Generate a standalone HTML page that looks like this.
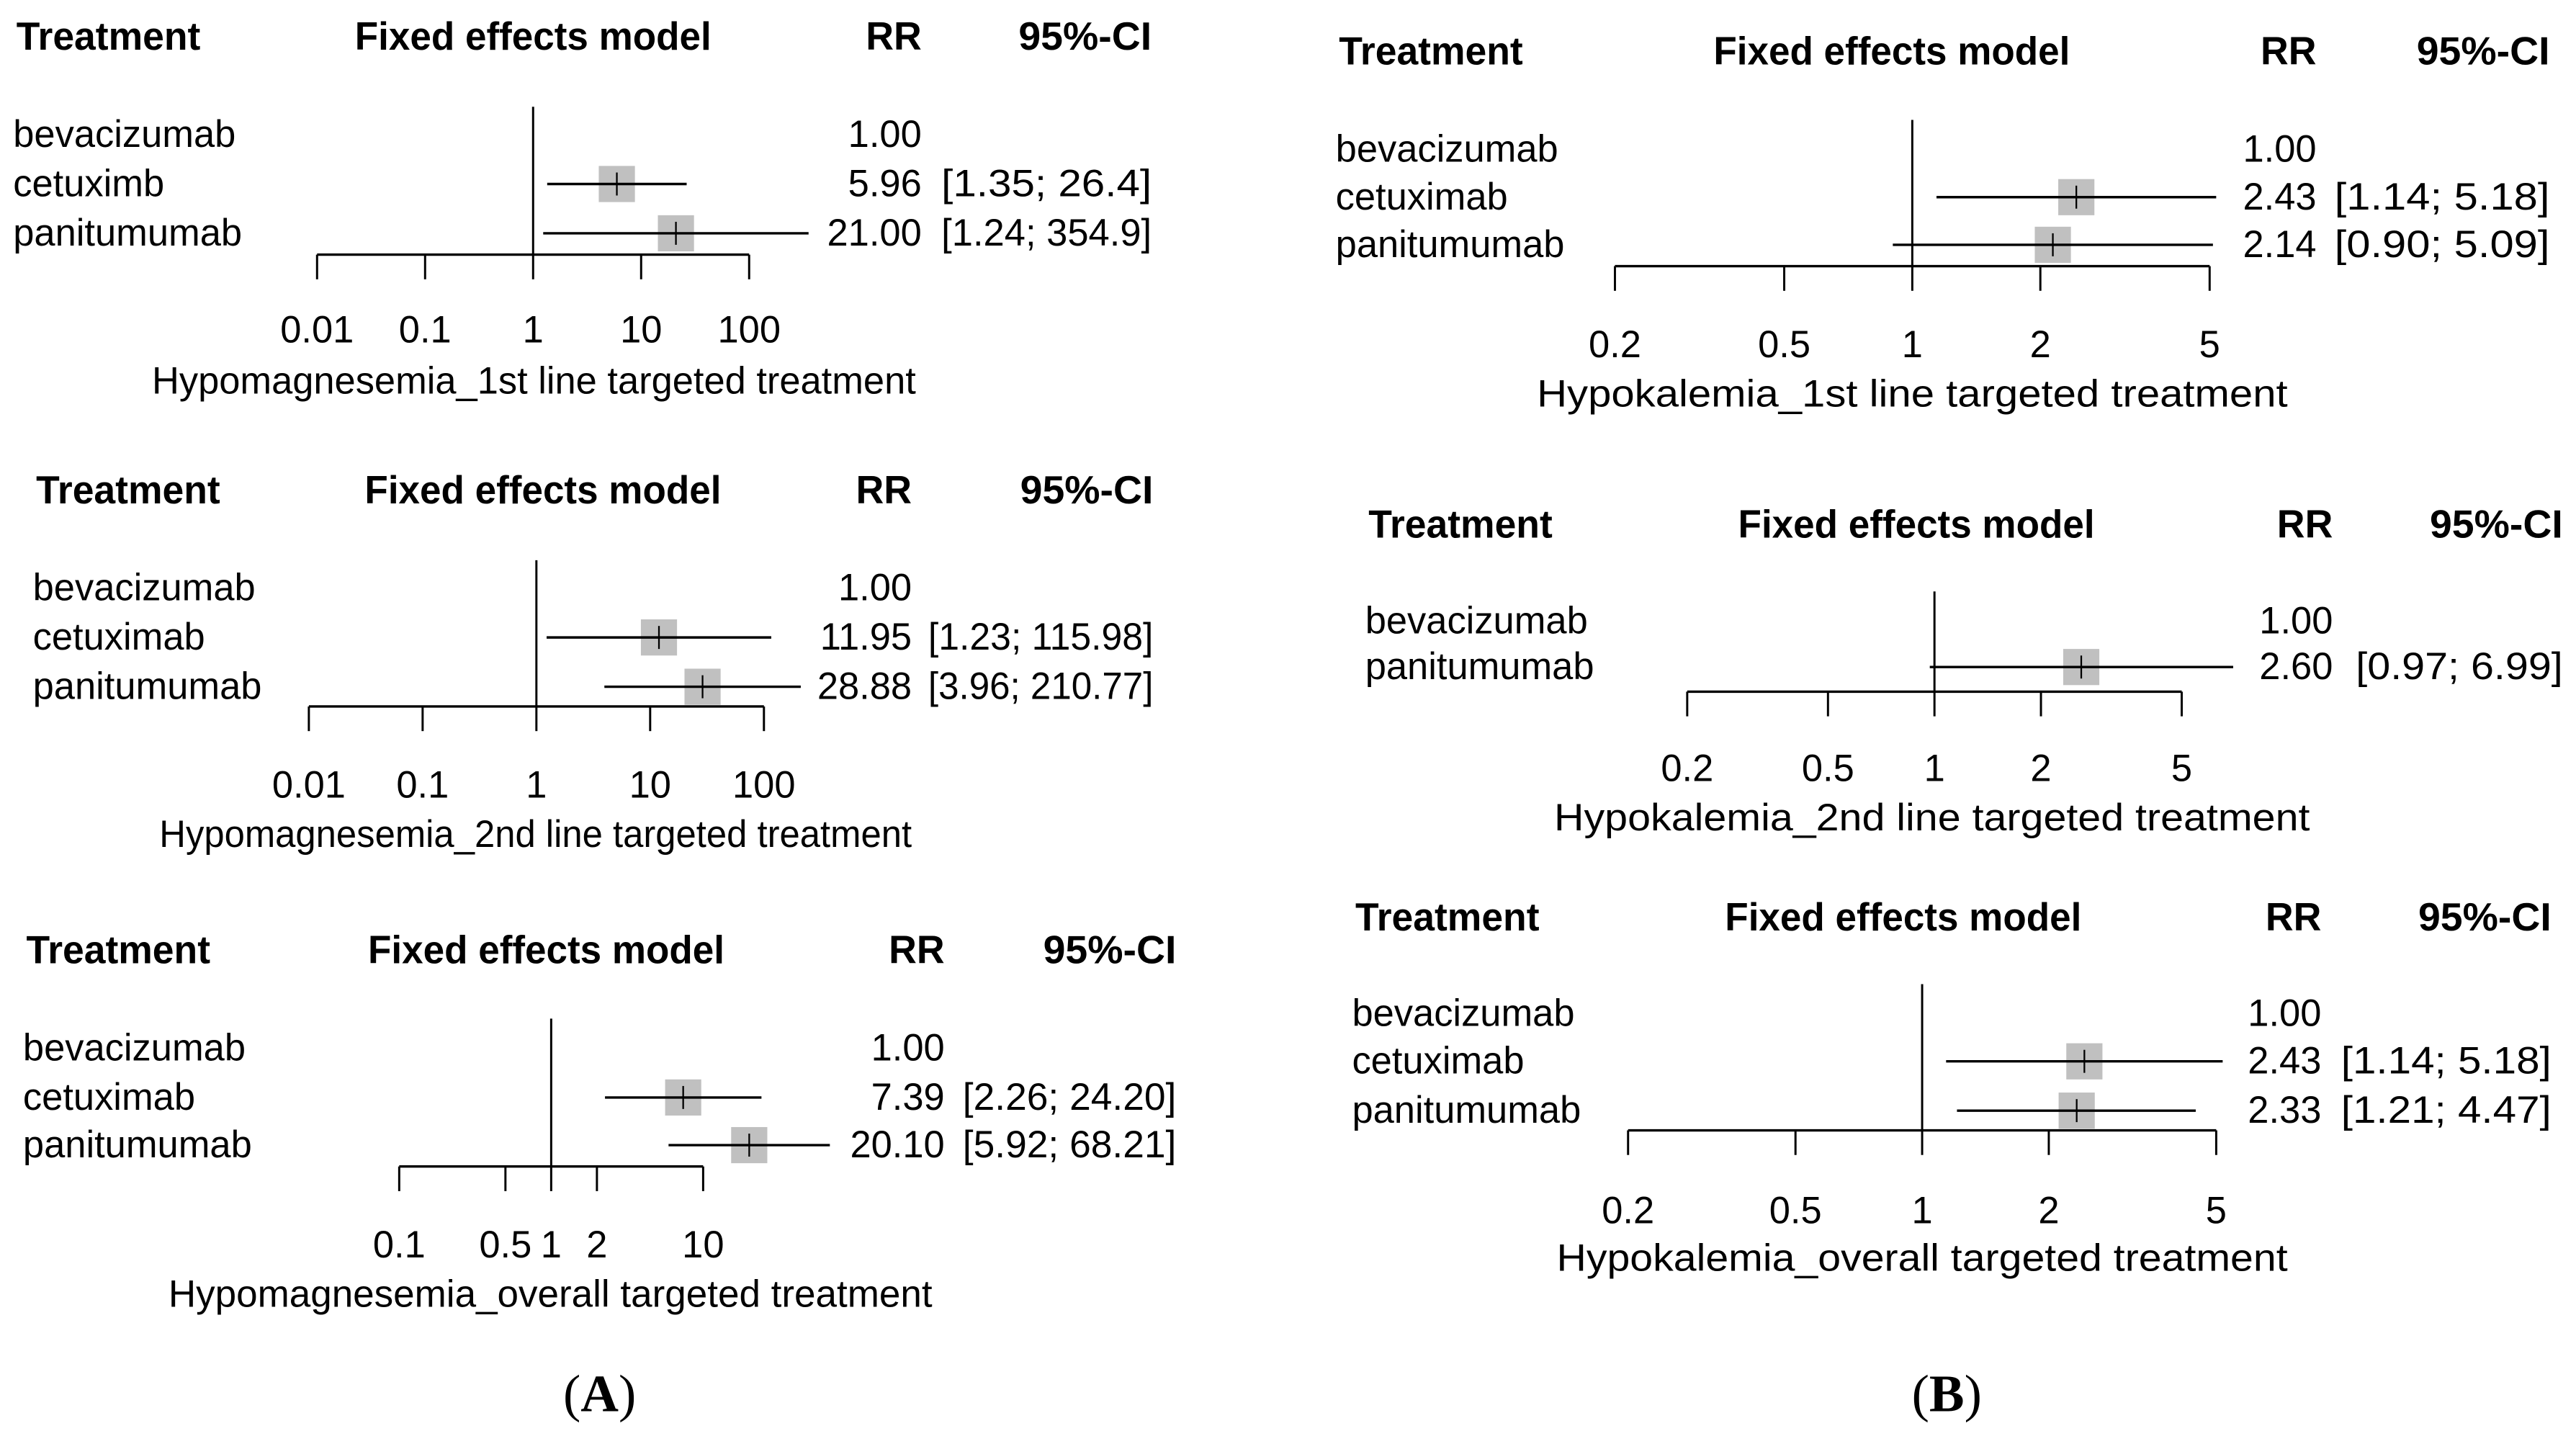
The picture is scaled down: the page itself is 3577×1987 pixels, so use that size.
<!DOCTYPE html>
<html><head><meta charset="utf-8"><style>
html,body{margin:0;padding:0;background:#fff;}
svg{display:block;}
text{font-family:"Liberation Sans",Arial,sans-serif;fill:#000;}
</style></head><body>
<svg id="chart" width="3577" height="1987" viewBox="0 0 1568 871" preserveAspectRatio="none" xmlns="http://www.w3.org/2000/svg"></svg>
<script>
// ---- data (per panel) ----
const a1_labels = ["bevacizumab","cetuximb","panitumumab"];
const a1_rr = [1.00, 5.96, 21.00];
const a1_lo = [null, 1.35, 1.24];
const a1_hi = [null, 26.4, 354.9];
const a1_rrText = ["1.00","5.96","21.00"];
const a1_ciText = ["","[1.35;  26.4]","[1.24; 354.9]"];
const a1_ticks = [0.01, 0.1, 1, 10, 100];
const a1_tickLabels = ["0.01","0.1","1","10","100"];

const a2_labels = ["bevacizumab","cetuximab","panitumumab"];
const a2_rr = [1.00, 11.95, 28.88];
const a2_lo = [null, 1.23, 3.96];
const a2_hi = [null, 115.98, 210.77];
const a2_rrText = ["1.00","11.95","28.88"];
const a2_ciText = ["","[1.23; 115.98]","[3.96; 210.77]"];
const a2_ticks = [0.01, 0.1, 1, 10, 100];
const a2_tickLabels = ["0.01","0.1","1","10","100"];

const a3_labels = ["bevacizumab","cetuximab","panitumumab"];
const a3_rr = [1.00, 7.39, 20.10];
const a3_lo = [null, 2.26, 5.92];
const a3_hi = [null, 24.20, 68.21];
const a3_rrText = ["1.00","7.39","20.10"];
const a3_ciText = ["","[2.26; 24.20]","[5.92; 68.21]"];
const a3_ticks = [0.1, 0.5, 1, 2, 10];
const a3_tickLabels = ["0.1","0.5","1","2","10"];

const b1_labels = ["bevacizumab","cetuximab","panitumumab"];
const b1_rr = [1.00, 2.43, 2.14];
const b1_lo = [null, 1.14, 0.90];
const b1_hi = [null, 5.18, 5.09];
const b1_rrText = ["1.00","2.43","2.14"];
const b1_ciText = ["","[1.14; 5.18]","[0.90; 5.09]"];
const b1_ticks = [0.2, 0.5, 1, 2, 5];
const b1_tickLabels = ["0.2","0.5","1","2","5"];

const b2_labels = ["bevacizumab","panitumumab"];
const b2_rr = [1.00, 2.60];
const b2_lo = [null, 0.97];
const b2_hi = [null, 6.99];
const b2_rrText = ["1.00","2.60"];
const b2_ciText = ["","[0.97; 6.99]"];
const b2_ticks = [0.2, 0.5, 1, 2, 5];
const b2_tickLabels = ["0.2","0.5","1","2","5"];

const b3_labels = ["bevacizumab","cetuximab","panitumumab"];
const b3_rr = [1.00, 2.43, 2.33];
const b3_lo = [null, 1.14, 1.21];
const b3_hi = [null, 5.18, 4.47];
const b3_rrText = ["1.00","2.43","2.33"];
const b3_ciText = ["","[1.14; 5.18]","[1.21; 4.47]"];
const b3_ticks = [0.2, 0.5, 1, 2, 5];
const b3_tickLabels = ["0.2","0.5","1","2","5"];

const titles = ["Hypomagnesemia_1st line targeted treatment","Hypomagnesemia_2nd line targeted treatment","Hypomagnesemia_overall targeted treatment","Hypokalemia_1st line targeted treatment","Hypokalemia_2nd line targeted treatment","Hypokalemia_overall targeted treatment"];

// ---- layout ----
const layouts = [
 {id:"a1",hy:22,tx:10,fx:216,rrx:527,cix:620,cie:701,rows:[82,112,142],refTop:65,axY:155,axMin:0.01,axMinX:193,axMax:100,axMaxX:456,tly:201,xly:232,xlc:325,xlw:465,rrR:561,ciS:573,ciE:701},
 {id:"a2",hy:298,tx:22,fx:222,rrx:521,cix:624,cie:702,rows:[358,388,418],refTop:341,axY:430,axMin:0.01,axMinX:188,axMax:100,axMaxX:465,tly:478,xly:508,xlc:326,xlw:458,rrR:555,ciS:565,ciE:702},
 {id:"a3",hy:578,tx:16,fx:224,rrx:538,cix:633,cie:716,rows:[638,668,697],refTop:620,axY:710,axMin:0.1,axMinX:243,axMax:10,axMaxX:428,tly:758,xly:788,xlc:335,xlw:465,rrR:575,ciS:586,ciE:716},
 {id:"b1",hy:31,tx:815,fx:1043,rrx:1372,cix:1461,cie:1552,rows:[91,120,149],refTop:73,axY:162,axMin:0.2,axMinX:983,axMax:5,axMaxX:1345,tly:210,xly:240,xlc:1164,xlw:457,rrR:1410,ciS:1421,ciE:1552},
 {id:"b2",hy:319,tx:833,fx:1058,rrx:1370,cix:1471,cie:1560,rows:[378,406],refTop:360,axY:421,axMin:0.2,axMinX:1027,axMax:5,axMaxX:1328,tly:468,xly:498,xlc:1176,xlw:460,rrR:1420,ciS:1434,ciE:1560},
 {id:"b3",hy:558,tx:825,fx:1050,rrx:1375,cix:1465,cie:1553,rows:[617,646,676],refTop:599,axY:688,axMin:0.2,axMinX:991,axMax:5,axMaxX:1349,tly:737,xly:766,xlc:1170,xlw:445,rrR:1413,ciS:1425,ciE:1553}
];
const panelData = {
 a1:[a1_labels,a1_rr,a1_lo,a1_hi,a1_rrText,a1_ciText,a1_ticks,a1_tickLabels],
 a2:[a2_labels,a2_rr,a2_lo,a2_hi,a2_rrText,a2_ciText,a2_ticks,a2_tickLabels],
 a3:[a3_labels,a3_rr,a3_lo,a3_hi,a3_rrText,a3_ciText,a3_ticks,a3_tickLabels],
 b1:[b1_labels,b1_rr,b1_lo,b1_hi,b1_rrText,b1_ciText,b1_ticks,b1_tickLabels],
 b2:[b2_labels,b2_rr,b2_lo,b2_hi,b2_rrText,b2_ciText,b2_ticks,b2_tickLabels],
 b3:[b3_labels,b3_rr,b3_lo,b3_hi,b3_rrText,b3_ciText,b3_ticks,b3_tickLabels]
};

const NS = "http://www.w3.org/2000/svg";
const svg = document.getElementById("chart");
function mk(tag, parent, attrs){
  const e = document.createElementNS(NS, tag);
  for (const k in attrs) e.setAttribute(k, attrs[k]);
  parent.appendChild(e);
  return e;
}
function txt(parent, x, y, s, size, anchor, bold, len){
  const t = mk("text", parent, {x:x, y:y, "font-size":size, "text-anchor":anchor||"start", "dominant-baseline":"central"});
  if (bold) t.setAttribute("font-weight","bold");
  if (len){ t.setAttribute("textLength", len); t.setAttribute("lengthAdjust","spacingAndGlyphs"); }
  t.textContent = s;
  return t;
}

layouts.forEach((L, pi) => {
  const [labels, rr, lo, hi, rrText, ciText, ticks, tickLabels] = panelData[L.id];
  const g = mk("g", svg, {});
  
  
  const k = (L.axMaxX - L.axMinX) / Math.log10(L.axMax / L.axMin);
  const sx = v => L.axMinX + k * Math.log10(v / L.axMin);

  // headers
  let h;
  h = txt(g, L.tx, L.hy, "Treatment", 24, "start", true, 112);
  
  
  h = txt(g, L.fx, L.hy, "Fixed effects model", 24, "start", true, 217);
  
  
  h = txt(g, L.rrR, L.hy, "RR", 24, "end", true, 34);
  
  
  h = txt(g, L.cie, L.hy, "95%-CI", 24, "end", true, 81);
  
  

  // reference line
  const ref = mk("line", g, {x1:sx(1), x2:sx(1), y1:L.refTop, y2:L.axY, stroke:"#000","stroke-width":1.3});
  
  

  // axis
  const ax = mk("line", g, {x1:sx(ticks[0]), x2:sx(ticks[ticks.length-1]), y1:L.axY, y2:L.axY, stroke:"#000","stroke-width":1.5});
  
  
  ticks.forEach((tv, i) => {
    const tk = mk("line", g, {x1:sx(tv), x2:sx(tv), y1:L.axY, y2:L.axY+15, stroke:"#000","stroke-width":1.3});
    
    
    const tl = txt(g, sx(tv), L.tly, tickLabels[i], 23, "middle");
    
    
  });
  const xl = txt(g, L.xlc, L.xly, titles[pi], 23, "middle", false, L.xlw);
  
  

  // rows
  labels.forEach((lab, i) => {
    const y = L.rows[i];
    const lt = txt(g, L.tx - 2, y, lab, 23, "start");
    
    
    const rt = txt(g, L.rrR, y, rrText[i], 23, "end");
    
    
    if (ciText[i]) {
      const ct = txt(g, L.ciS, y, ciText[i], 23, "start", false, L.ciE - L.ciS);
      
      
    }
    if (lo[i] !== null) {
      const cx = sx(rr[i]);
      const sq = mk("rect", g, {x:cx-11, y:y-11, width:22, height:22, fill:"#c0c0c0"});
      
      
      const ci = mk("line", g, {x1:sx(lo[i]), x2:sx(hi[i]), y1:y, y2:y, stroke:"#000","stroke-width":1.5});
      
      
      const pt = mk("line", g, {x1:cx, x2:cx, y1:y-7, y2:y+7, stroke:"#000","stroke-width":1});
      
      
    }
  });
});

// panel letters
[["(A)",365],["(B)",1185]].forEach(([s,x]) => {
  const t = mk("text", svg, {x:x, y:848, "font-size":32, "text-anchor":"middle", "dominant-baseline":"central", style:"font-family:'Liberation Serif',serif"});
  
  
  const a = mk("tspan", t, {}); a.textContent = "(";
  const b = mk("tspan", t, {"font-weight":"bold"}); b.textContent = s[1];
  const c = mk("tspan", t, {}); c.textContent = ")";
});
</script>
</body></html>
